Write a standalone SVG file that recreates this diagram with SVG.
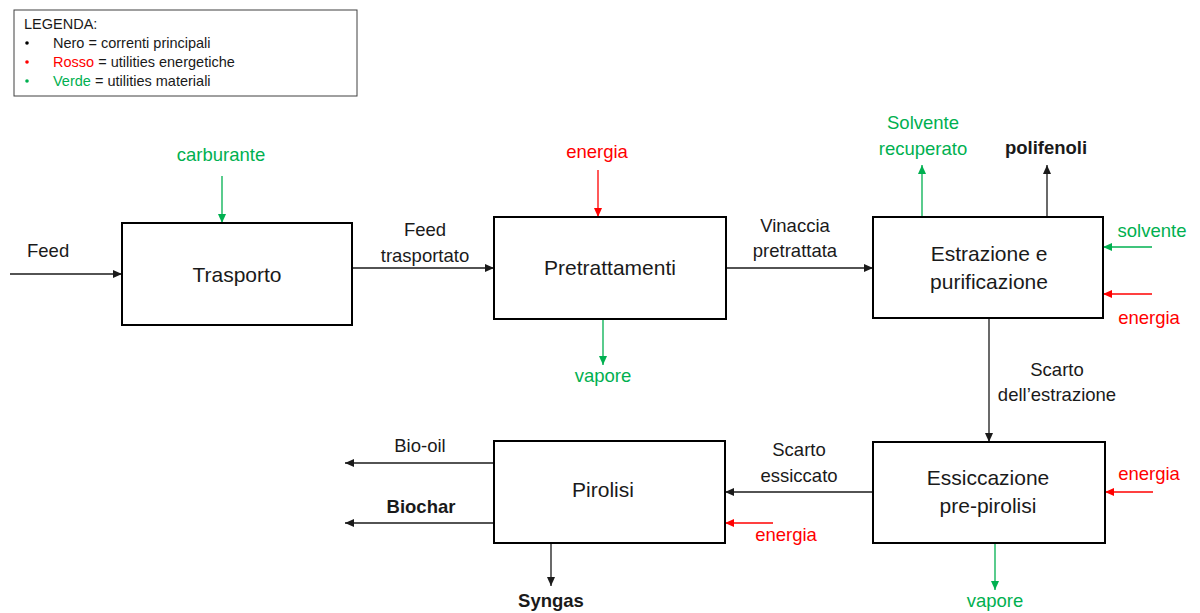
<svg xmlns="http://www.w3.org/2000/svg" width="1200" height="613" viewBox="0 0 1200 613">
<style>
text{font-family:"Liberation Sans",Arial,sans-serif;fill:#1a1a1a}
.box{fill:#fff;stroke:#000;stroke-width:2}
.bl{font-size:21px}
.lb{font-size:18.5px}
.b{font-weight:bold}
.g{fill:#00B050}
.r{fill:#FF0000}
.c{stroke-width:1.3;fill:none}
.ck{stroke:#1a1a1a}
.cg{stroke:#00B050}
.cr{stroke:#FF0000}
.lg{font-size:14.5px}
</style>
<defs>
<marker id="ak" markerUnits="userSpaceOnUse" markerWidth="9" markerHeight="8" refX="9" refY="4" orient="auto"><path d="M0,0 L9,4 L0,8 z" fill="#1a1a1a"/></marker>
<marker id="ag" markerUnits="userSpaceOnUse" markerWidth="9" markerHeight="8" refX="9" refY="4" orient="auto"><path d="M0,0 L9,4 L0,8 z" fill="#00B050"/></marker>
<marker id="ar" markerUnits="userSpaceOnUse" markerWidth="9" markerHeight="8" refX="9" refY="4" orient="auto"><path d="M0,0 L9,4 L0,8 z" fill="#FF0000"/></marker>
</defs>
<rect width="1200" height="613" fill="#fff"/>

<g id="legend">
<rect x="14" y="10" width="343" height="86" fill="#fff" stroke="#404040" stroke-width="1"/>
<text class="lg" x="24" y="29">LEGENDA:</text>
<circle cx="27" cy="43" r="1.8" fill="#000"/>
<text class="lg" x="53" y="48">Nero = correnti principali</text>
<circle cx="27" cy="62" r="1.8" fill="#FF0000"/>
<text class="lg" x="53" y="67"><tspan class="r">Rosso</tspan> = utilities energetiche</text>
<circle cx="27" cy="81" r="1.8" fill="#00B050"/>
<text class="lg" x="53" y="86"><tspan class="g">Verde</tspan> = utilities materiali</text>
</g>

<g id="connectors">
<line class="c ck" x1="10" y1="274" x2="122" y2="274" marker-end="url(#ak)"/>
<line class="c cg" x1="222" y1="176" x2="222" y2="223" marker-end="url(#ag)"/>
<line class="c ck" x1="352" y1="268" x2="494" y2="268" marker-end="url(#ak)"/>
<line class="c cr" x1="598" y1="170" x2="598" y2="217" marker-end="url(#ar)"/>
<line class="c cg" x1="603" y1="319" x2="603" y2="365" marker-end="url(#ag)"/>
<line class="c ck" x1="726" y1="268" x2="873" y2="268" marker-end="url(#ak)"/>
<line class="c cg" x1="922" y1="217" x2="922" y2="165" marker-end="url(#ag)"/>
<line class="c ck" x1="1047" y1="217" x2="1047" y2="165" marker-end="url(#ak)"/>
<line class="c cg" x1="1152" y1="247" x2="1103" y2="247" marker-end="url(#ag)"/>
<line class="c cr" x1="1152" y1="294" x2="1103" y2="294" marker-end="url(#ar)"/>
<line class="c ck" x1="989" y1="318" x2="989" y2="442" marker-end="url(#ak)"/>
<line class="c cr" x1="1153" y1="492" x2="1105" y2="492" marker-end="url(#ar)"/>
<line class="c cg" x1="995" y1="543" x2="995" y2="590" marker-end="url(#ag)"/>
<line class="c ck" x1="873" y1="492" x2="725" y2="492" marker-end="url(#ak)"/>
<line class="c cr" x1="773" y1="523" x2="725" y2="523" marker-end="url(#ar)"/>
<line class="c ck" x1="494" y1="463" x2="345" y2="463" marker-end="url(#ak)"/>
<line class="c ck" x1="494" y1="523" x2="345" y2="523" marker-end="url(#ak)"/>
<line class="c ck" x1="551" y1="543" x2="551" y2="586" marker-end="url(#ak)"/>
</g>

<g id="labels" text-anchor="middle">
<text class="lb" x="27" y="257" text-anchor="start">Feed</text>
<text class="lb g" x="221" y="161">carburante</text>
<text class="lb" x="425" y="236">Feed</text>
<text class="lb" x="425" y="262">trasportato</text>
<text class="lb r" x="597" y="158">energia</text>
<text class="lb g" x="603" y="382">vapore</text>
<text class="lb" x="795" y="232">Vinaccia</text>
<text class="lb" x="795" y="257">pretrattata</text>
<text class="lb g" x="923" y="129">Solvente</text>
<text class="lb g" x="923" y="155">recuperato</text>
<text class="lb b" x="1046" y="154">polifenoli</text>
<text class="lb g" x="1152" y="237">solvente</text>
<text class="lb r" x="1149" y="324">energia</text>
<text class="lb" x="1057" y="376">Scarto</text>
<text class="lb" x="1057" y="401">dell’estrazione</text>
<text class="lb r" x="1149" y="480">energia</text>
<text class="lb g" x="995" y="607">vapore</text>
<text class="lb" x="799" y="456">Scarto</text>
<text class="lb" x="799" y="482">essiccato</text>
<text class="lb r" x="786" y="541">energia</text>
<text class="lb" x="420" y="452">Bio-oil</text>
<text class="lb b" x="421" y="513">Biochar</text>
<text class="lb b" x="551" y="607">Syngas</text>
</g>

<g id="trasporto">
<rect class="box" x="122" y="223" width="230" height="102"/>
<text class="bl" x="237" y="282" text-anchor="middle">Trasporto</text>
</g>
<g id="pretrattamenti">
<rect class="box" x="494" y="217" width="232" height="102"/>
<text class="bl" x="610" y="275" text-anchor="middle">Pretrattamenti</text>
</g>
<g id="estrazione">
<rect class="box" x="873" y="217" width="230" height="101"/>
<text class="bl" x="989" y="261" text-anchor="middle">Estrazione e</text>
<text class="bl" x="989" y="289" text-anchor="middle">purificazione</text>
</g>
<g id="essiccazione">
<rect class="box" x="873" y="442" width="232" height="101"/>
<text class="bl" x="988" y="485" text-anchor="middle">Essiccazione</text>
<text class="bl" x="988" y="513" text-anchor="middle">pre-pirolisi</text>
</g>
<g id="pirolisi">
<rect class="box" x="494" y="441" width="231" height="102"/>
<text class="bl" x="603" y="497" text-anchor="middle">Pirolisi</text>
</g>
</svg>
